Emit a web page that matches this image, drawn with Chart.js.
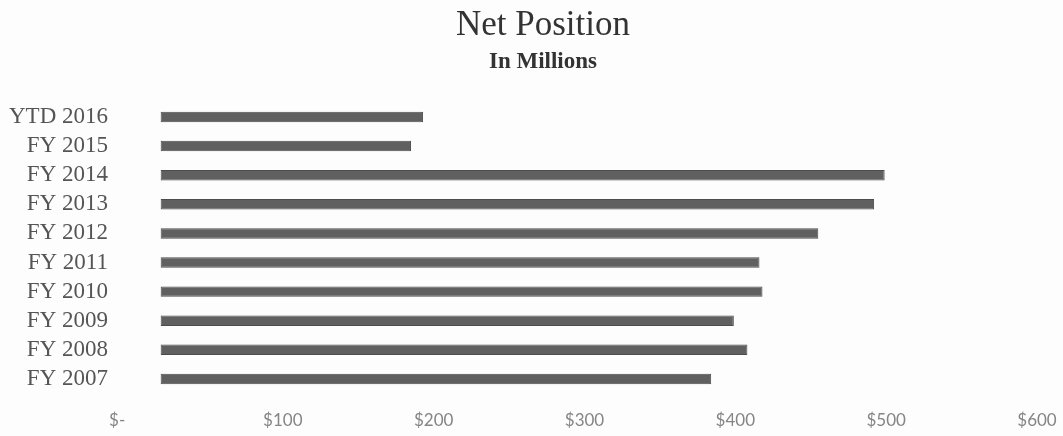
<!DOCTYPE html>
<html>
<head>
<meta charset="utf-8">
<title>Net Position</title>
<script src="https://cdn.jsdelivr.net/npm/chart.js@4/dist/chart.umd.min.js"></script>
<style>
  html, body { margin: 0; padding: 0; background: #fdfdfd; }
  #wrap { width: 1063px; height: 436px; position: relative; }
</style>
</head>
<body>
<div id="wrap"><canvas id="net-position"></canvas></div>
<script>
// Net position by fiscal year, in millions of dollars
const years = ["YTD 2016", "FY 2015", "FY 2014", "FY 2013", "FY 2012",
               "FY 2011", "FY 2010", "FY 2009", "FY 2008", "FY 2007"];
const netPosition = [193, 185, 499, 492, 455, 416, 418, 399, 408, 384];
// accounting-style axis labels; zero gets digit-width padding like "$-  "
const xTickValues = [0, 100, 200, 300, 400, 500, 600];
const xTickLabels = ["$-\u2007\u2007\u2007", "$100", "$200", "$300", "$400", "$500", "$600"];

// heading sits a little right of the canvas centre, over the bars
const headingPlugin = {
    id: "heading",
    afterDraw: function (chart) {
        const c = chart.ctx;
        c.save();
        c.fillStyle = "#333";
        c.textAlign = "center";
        c.textBaseline = "alphabetic";
        c.font = "35px 'Liberation Serif', serif";
        c.fillText("Net Position", 543, 35);
        c.font = "bold 23px 'Liberation Serif', serif";
        c.fillText("In Millions", 543, 68);
        c.restore();
    }
};

document.addEventListener("DOMContentLoaded", function () {
    const ctx = document.getElementById("net-position").getContext("2d");

    new Chart(ctx, {
        type: "bar",
        data: {
            labels: years,
            datasets: [{
                label: "Net Position",
                data: netPosition,
                base: 19,
                backgroundColor: "#606060",
                borderColor: "#4c4c4c",
                borderWidth: 1,
                borderSkipped: false,
                categoryPercentage: 1,
                barPercentage: 0.36
            }]
        },
        plugins: [headingPlugin],
        options: {
            indexAxis: "y",
            responsive: true,
            maintainAspectRatio: false,
            animation: false,
            layout: { padding: { left: 0, right: 0, top: 102.4, bottom: 0 } },
            plugins: {
                legend: { display: false },
                tooltip: { enabled: false }
            },
            scales: {
                x: {
                    min: 0,
                    max: 600,
                    afterBuildTicks: function (scale) {
                        scale.ticks = xTickValues.map(v => ({ value: v }));
                    },
                    afterFit: function (scale) {
                        scale.height = 42.5;
                        scale.paddingLeft = 0;
                        scale.paddingRight = 26;
                    },
                    grid: { display: false, drawTicks: false },
                    border: { display: false },
                    ticks: {
                        padding: 17,
                        color: "#858585",
                        font: { family: "Lato, sans-serif", size: 17 },
                        maxRotation: 0,
                        callback: function (value) {
                            return xTickLabels[xTickValues.indexOf(value)];
                        }
                    }
                },
                y: {
                    afterFit: function (scale) { scale.width = 132; },
                    grid: { display: false, drawTicks: false },
                    border: { display: false },
                    ticks: {
                        autoSkip: false,
                        padding: 24,
                        color: "#555",
                        font: { family: "'Liberation Serif', serif", size: 23 }
                    }
                }
            }
        }
    });
});
</script>
</body>
</html>
